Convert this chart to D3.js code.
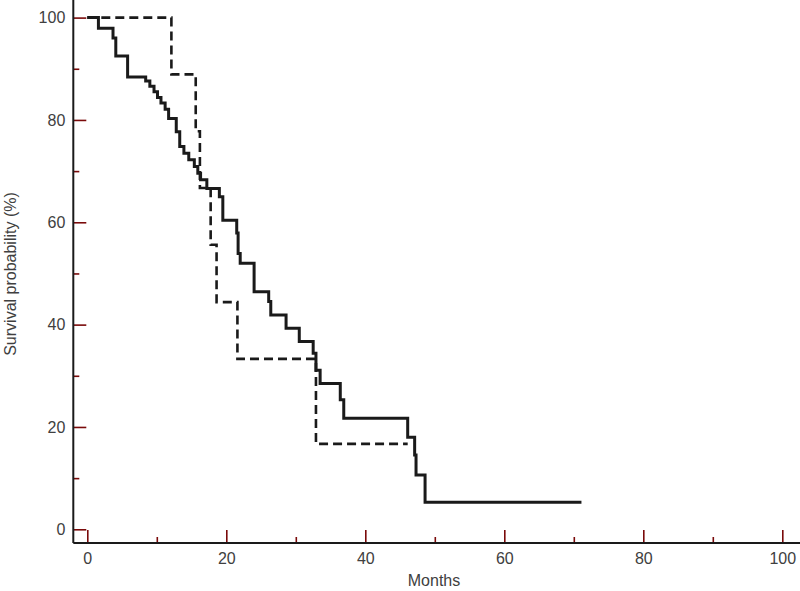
<!DOCTYPE html>
<html>
<head>
<meta charset="utf-8">
<script src="https://cdn.jsdelivr.net/npm/d3@7"></script>
<style>
  html, body { margin: 0; padding: 0; background: #fff; }
  svg { display: block; font-family: "Liberation Sans", Arial, sans-serif; }
</style>
</head>
<body>
<svg id="chart" width="800" height="591"></svg>
<script>
// ---- data ----
const solidTimes = [0, 1.6, 3.7, 4.1, 5.8, 8.4, 9.0, 9.6, 10.1, 10.6, 11.2, 11.7, 12.8, 13.3, 13.9, 14.6, 15.4, 15.9, 16.3, 17.2, 19.0, 19.5, 21.5, 21.7, 22.0, 24.0, 26.1, 26.4, 28.6, 30.5, 32.5, 32.9, 33.5, 36.4, 36.9, 46.1, 47.1, 47.3, 48.6, 71.1];
const solidSurv  = [100, 97.9, 96.0, 92.5, 88.4, 87.6, 86.6, 85.5, 84.4, 83.3, 82.1, 80.3, 77.7, 74.8, 73.5, 72.2, 70.9, 69.6, 68.3, 66.6, 65.0, 60.4, 57.9, 53.9, 52.0, 46.4, 44.5, 41.9, 39.3, 36.7, 34.4, 31.1, 28.5, 25.3, 21.7, 18.0, 14.5, 10.6, 5.3, 5.3];
const dashedTimes = [0, 12.1, 15.6, 16.2, 17.75, 18.6, 21.6, 32.9, 46.1];
const dashedSurv  = [100, 88.9, 77.8, 66.7, 55.6, 44.4, 33.3, 16.7, 16.7];
const majorTicks = [0, 20, 40, 60, 80, 100];
const minorTicks = [10, 30, 50, 70, 90];
const xTitle = "Months";
const yTitle = "Survival probability (%)";

// ---- layout ----
const svg = d3.select("#chart");
const x = d3.scaleLinear().domain([0, 100]).range([87.3, 782.3]);
const y = d3.scaleLinear().domain([0, 100]).range([529.3, 17.6]);
const axisY = 543;     // pixel row of x axis line
const axisX = 73.3;    // pixel column of y axis line
const tickColor = "#7a0a0a";
const textColor = "#404040";
const fontSize = "16px";

// X axis major ticks (inward) with labels
const gx = svg.append("g").attr("transform", `translate(0,${axisY})`)
  .call(d3.axisBottom(x).tickValues(majorTicks).tickSizeInner(-13).tickSizeOuter(0).tickPadding(10).tickFormat(d3.format("d")));
const gxm = svg.append("g").attr("transform", `translate(0,${axisY})`)
  .call(d3.axisBottom(x).tickValues(minorTicks).tickSizeInner(-6).tickSizeOuter(0).tickFormat(""));

// Y axis
const gy = svg.append("g").attr("transform", `translate(${axisX},0)`)
  .call(d3.axisLeft(y).tickValues(majorTicks).tickSizeInner(-13).tickSizeOuter(0).tickPadding(8).tickFormat(d3.format("d")));
const gym = svg.append("g").attr("transform", `translate(${axisX},0)`)
  .call(d3.axisLeft(y).tickValues(minorTicks).tickSizeInner(-6).tickSizeOuter(0).tickFormat(""));

[gx, gxm, gy, gym].forEach(g => {
  g.select(".domain").remove();
  g.selectAll(".tick line").attr("stroke", tickColor).attr("stroke-width", 1.6);
  g.selectAll(".tick text").attr("fill", textColor).style("font-size", fontSize).style("font-family", "Liberation Sans, Arial, sans-serif");
});

// axis lines
svg.append("line").attr("x1", axisX).attr("x2", 800).attr("y1", axisY).attr("y2", axisY)
  .attr("stroke", "#1a1a1a").attr("stroke-width", 2);
svg.append("line").attr("x1", axisX).attr("x2", axisX).attr("y1", 0).attr("y2", axisY)
  .attr("stroke", "#1a1a1a").attr("stroke-width", 2);

// curves
const line = d3.line().x(d => x(d[0])).y(d => y(d[1])).curve(d3.curveStepAfter);
const dashed = dashedTimes.map((t, i) => [t, dashedSurv[i]]);
const solid = solidTimes.map((t, i) => [t, solidSurv[i]]);

svg.append("path").datum(dashed).attr("d", line)
  .attr("fill", "none").attr("stroke", "#1a1a1a").attr("stroke-width", 2.6)
  .attr("stroke-dasharray", "9,5");
svg.append("path").datum(solid).attr("d", line)
  .attr("fill", "none").attr("stroke", "#1a1a1a").attr("stroke-width", 3);

// titles
svg.append("text").attr("x", 434).attr("y", 586).attr("text-anchor", "middle")
  .attr("fill", textColor).style("font-size", fontSize).text(xTitle);
svg.append("text").attr("transform", "translate(16,274) rotate(-90)").attr("text-anchor", "middle")
  .attr("fill", textColor).style("font-size", fontSize).text(yTitle);
</script>
</body>
</html>
